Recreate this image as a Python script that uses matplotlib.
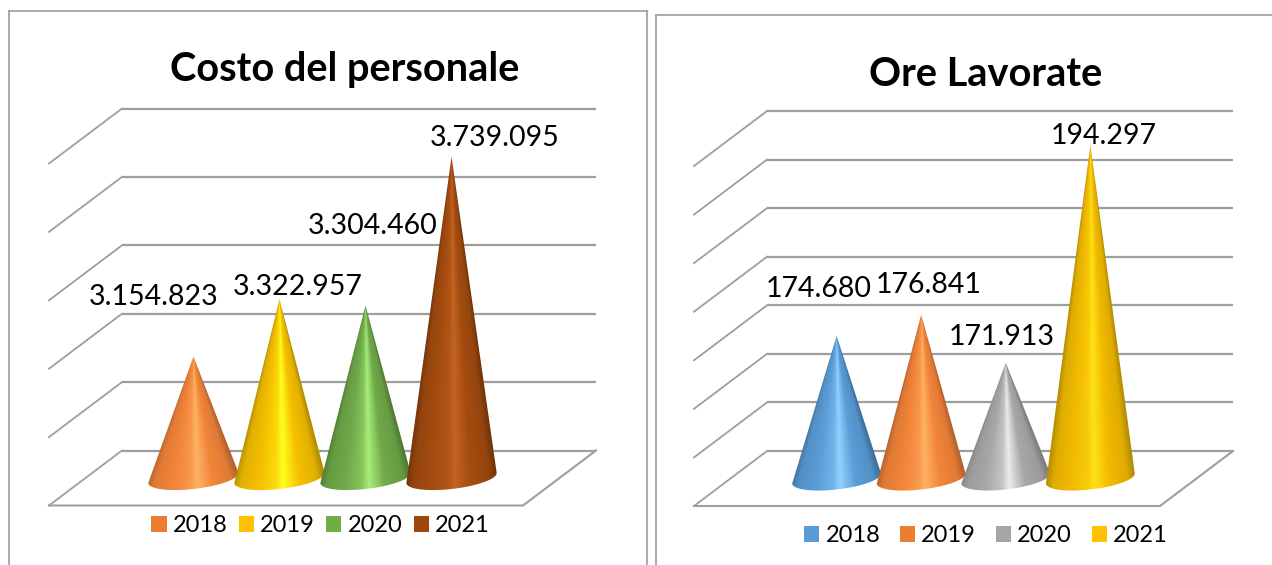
import numpy as np
import matplotlib
matplotlib.use("Agg")
import matplotlib.pyplot as plt
from matplotlib.colors import to_rgb
from matplotlib.lines import Line2D
from matplotlib.patches import Patch, Polygon

years = ["2018", "2019", "2020", "2021"]
costo_values = [3154823, 3322957, 3304460, 3739095]
ore_values = [174680, 176841, 171913, 194297]

costo_ticks = [2800000, 3000000, 3200000, 3400000, 3600000, 3800000]
ore_ticks = [160000, 165000, 170000, 175000, 180000, 185000, 190000, 195000]

# (edge shade, body, highlight, legend swatch) for every series
ORANGE = ("#b4602c", "#f2853a", "#ffb264", "#ed7d31")
YELLOW = ("#b08c00", "#f6c000", "#ffff1e", "#ffc000")
GREEN = ("#4e7a32", "#70aa4a", "#a8ee7a", "#70ad47")
BROWN = ("#703408", "#a44c10", "#c46422", "#9e480e")
BLUE = ("#3f7099", "#5b9ed8", "#92d2ff", "#5b9bd5")
GRAY = ("#7e7e7e", "#a8a8a8", "#ececec", "#a5a5a5")
GOLD = ("#b08a00", "#f2ba00", "#ffe218", "#ffc000")

W, H = 1272, 565
GRID = "#9e9e9e"
FONT = "Lato"
LABEL_SIZE = 20.5

fig = plt.figure(figsize=(W / 100, H / 100), dpi=100, facecolor="white")


def frame_line(x0, y0, x1, y1):
    fig.add_artist(Line2D([x0 / W, x1 / W], [1 - y0 / H, 1 - y1 / H],
                          color="#9c9c9c", lw=1.2))


def cone(ax, i, value, base, half_depth, colors, z):
    half_w = 0.525
    b = 0.40 * half_depth
    tilt = 0.18 * half_depth
    t = np.linspace(0, -np.pi, 80)
    arc_x = i + half_w * np.cos(t)
    arc_y = base + b * np.sin(t) + tilt * np.cos(t)
    outline = np.vstack([[i, value], np.column_stack([arc_x, arc_y])])

    # Shade by position around the cone, so the bands converge on the apex
    xs = np.linspace(i - half_w, i + half_w, 360)
    ys = np.linspace(value, base - 1.6 * half_depth, 600)
    gx, gy = np.meshgrid(xs, ys)
    frac = np.clip((value - gy) / (value - base), 1e-3, None)
    u = np.clip((gx - i) / (half_w * frac), -1, 1)
    edge, body, high = (np.array(to_rgb(c)) for c in colors[:3])
    stops = [-1, -0.82, -0.42, -0.08, 0.08, 0.42, 0.82, 1]
    ramp = [edge, 0.7 * body + 0.3 * edge, body, 0.6 * body + 0.4 * high, high,
            body, 0.7 * body + 0.3 * edge, edge]
    rgb = np.dstack([np.interp(u, stops, [c[k] for c in ramp]) for k in range(3)])

    im = ax.imshow(rgb, extent=(xs[0], xs[-1], ys[-1], ys[0]), origin="upper",
                   aspect="auto", interpolation="bilinear", zorder=z)
    clip = Polygon(outline, closed=True, transform=ax.transData)
    im.set_clip_path(clip)
    im.set_clip_box(fig.bbox)


def panel(left, right, base_y, top_y, ticks, values, palette, label_offsets, half_depth):
    # The axes sits on the middle plane of the 3D box
    ax = fig.add_axes([left / W, 1 - base_y / H, (right - left) / W, (base_y - top_y) / H])
    ax.axis("off")
    span_x = 5.51
    xlim = (1.5 - span_x / 2, 1.5 + span_x / 2)
    ylim = (ticks[0], ticks[-1])
    dx = 36.5 / ((right - left) / span_x)

    for tick in ticks:
        ax.plot([xlim[0] + dx, xlim[1] + dx], [tick + half_depth] * 2,
                color=GRID, lw=1.6, clip_on=False, zorder=1, solid_capstyle="butt")
        ax.plot([xlim[0] - dx, xlim[0] + dx], [tick - half_depth, tick + half_depth],
                color=GRID, lw=1.3, clip_on=False, zorder=1)
    floor = ticks[0]
    ax.plot([xlim[0] - dx, xlim[1] - dx, xlim[1] + dx],
            [floor - half_depth, floor - half_depth, floor + half_depth],
            color=GRID, lw=1.5, clip_on=False, zorder=1)

    for i, (value, colors) in enumerate(zip(values, palette)):
        cone(ax, i, value, floor, half_depth, colors, 3 + i)
        ax.annotate(f"{value:,}".replace(",", "."), xy=(i, value),
                    xytext=(label_offsets[i][0] * 0.72, label_offsets[i][1] * 0.72),
                    textcoords="offset points", ha="center", va="center",
                    fontsize=LABEL_SIZE, family=FONT, color="black", zorder=10)

    ax.set_xlim(xlim)
    ax.set_ylim(ylim)
    return ax


frame_line(9, 565, 9, 11)
frame_line(9, 11, 647, 11)
frame_line(647, 11, 647, 565)
frame_line(656, 565, 656, 15)
frame_line(656, 15, 1272, 15)

ax_left = panel(85.5, 559.5, 478, 136, costo_ticks, costo_values,
                [ORANGE, YELLOW, GREEN, BROWN],
                [(-40, 60), (18, 12), (7, 79), (43, 19)], 80400)
ax_right = panel(730.5, 1196.5, 478.5, 138.5, ore_ticks, ore_values,
                 [BLUE, ORANGE, GRAY, GOLD],
                 [(-18, 47), (7, 30), (-4, 26), (13, 9)], 2830)

fig.text(345 / W, 1 - 69 / H, "Costo del personale", ha="center", va="center",
         fontsize=28.6, fontweight="bold", family=FONT, color="black")
fig.text(986 / W, 1 - 74 / H, "Ore Lavorate", ha="center", va="center",
         fontsize=28.6, fontweight="bold", family=FONT, color="black")

for palette, cx, cy, spacing in (
    ([ORANGE, YELLOW, GREEN, BROWN], 320.5, 526, 0.48),
    ([BLUE, ORANGE, GRAY, GOLD], 986, 536, 0.84),
):
    handles = [Patch(facecolor=c[3], edgecolor="none", label=y) for c, y in zip(palette, years)]
    fig.legend(handles=handles, loc="center", bbox_to_anchor=(cx / W, 1 - cy / H), ncol=4,
               frameon=False, prop={"family": FONT, "size": 17}, handlelength=0.64,
               handleheight=0.64, handletextpad=0.26, columnspacing=spacing, borderpad=0)

fig.savefig("out.png", dpi=100, facecolor="white")
